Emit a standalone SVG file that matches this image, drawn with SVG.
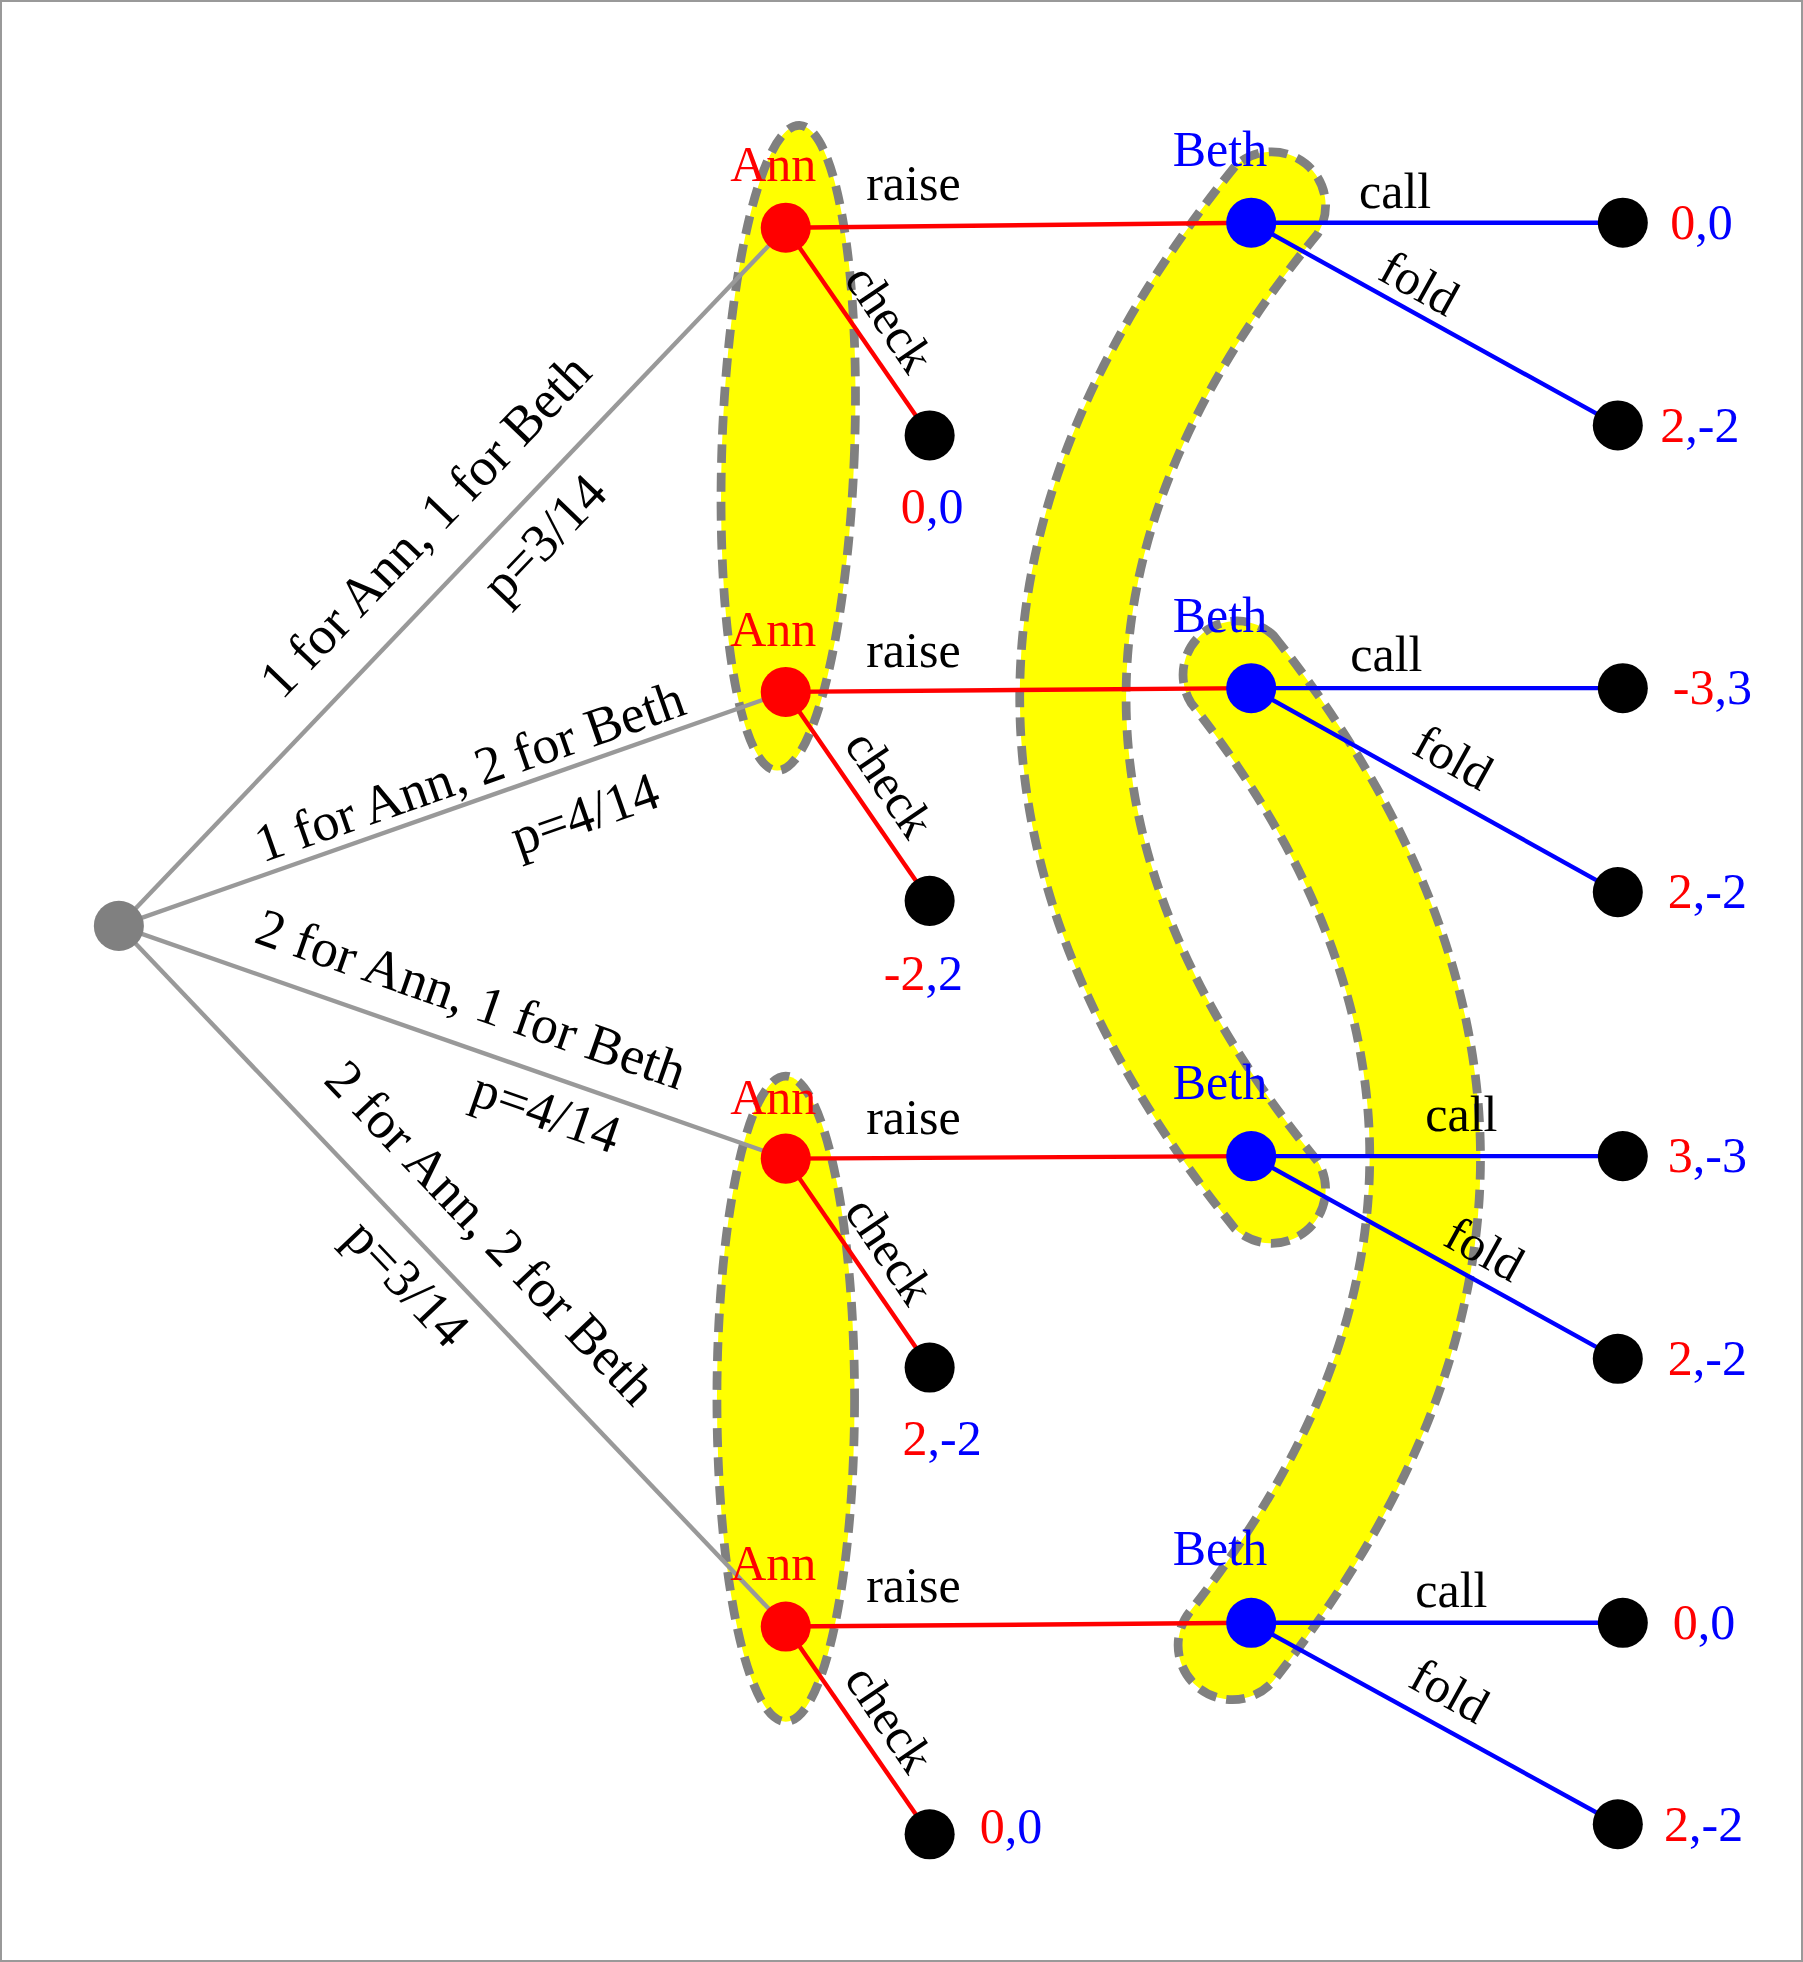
<svg xmlns="http://www.w3.org/2000/svg" width="1803" height="1962" viewBox="0 0 1803 1962">
<style>
text{font-family:"Liberation Serif","Times New Roman",serif;font-size:40px;fill:#000}
.c{font-size:43px}
.r{fill:#ff0000}.b{fill:#0000ff}
.set{fill:#ffff00;stroke:#808080;stroke-width:7;stroke-dasharray:15 8}
.g{stroke:#999;stroke-width:3.5}.re{stroke:#ff0000;stroke-width:3.5}.be{stroke:#0000ff;stroke-width:3.5}
</style>
<rect x="1" y="1" width="1801" height="1960" fill="#fff" stroke="#999" stroke-width="2"/>
<g transform="scale(1.2512)">
<g id="infosets">
<ellipse class="set" cx="630" cy="358" rx="53" ry="258" transform="rotate(2 630 358)"/>
<ellipse class="set" cx="628" cy="1118" rx="55" ry="258"/>
<path class="set" d="M987 133 Q643 557 987 982 A43 43 0 0 0 1053 928 Q747 557 1053 187 A43 43 0 0 0 987 133 Z"/>
<path class="set" d="M1018 508 Q1348 925 1019 1342 A43 43 0 0 1 951 1288 Q1238 925 952 562 A43 43 0 0 1 1018 508 Z"/>
</g>
<g id="connectors" fill="none">
<line class="g" x1="95" y1="740" x2="628" y2="182"/>
<line class="g" x1="95" y1="740" x2="628" y2="553"/>
<line class="g" x1="95" y1="740" x2="628" y2="926"/>
<line class="g" x1="95" y1="740" x2="628" y2="1300"/>
<line class="re" x1="628" y1="182" x2="1000" y2="178"/>
<line class="re" x1="628" y1="553" x2="1000" y2="550"/>
<line class="re" x1="628" y1="926" x2="1000" y2="924"/>
<line class="re" x1="628" y1="1300" x2="1000" y2="1297"/>
<line class="re" x1="628" y1="182" x2="743" y2="348"/>
<line class="re" x1="628" y1="553" x2="743" y2="720"/>
<line class="re" x1="628" y1="926" x2="743" y2="1093"/>
<line class="re" x1="628" y1="1300" x2="743" y2="1466"/>
<line class="be" x1="1000" y1="178" x2="1297" y2="178"/>
<line class="be" x1="1000" y1="178" x2="1293" y2="340"/>
<line class="be" x1="1000" y1="550" x2="1297" y2="550"/>
<line class="be" x1="1000" y1="550" x2="1293" y2="713"/>
<line class="be" x1="1000" y1="924" x2="1297" y2="924"/>
<line class="be" x1="1000" y1="924" x2="1293" y2="1086"/>
<line class="be" x1="1000" y1="1297" x2="1297" y2="1297"/>
<line class="be" x1="1000" y1="1297" x2="1293" y2="1458"/>
</g>
<g id="labels">
<text class="c" transform="translate(350 430) rotate(-46.3)" text-anchor="middle">1 for Ann, 1 for Beth</text>
<text class="c" transform="translate(445 440) rotate(-46.3)" text-anchor="middle">p=3/14</text>
<text class="c" transform="translate(380 630) rotate(-19.3)" text-anchor="middle">1 for Ann, 2 for Beth</text>
<text class="c" transform="translate(472 664) rotate(-19.3)" text-anchor="middle">p=4/14</text>
<text class="c" transform="translate(372 812) rotate(19.2)" text-anchor="middle">2 for Ann, 1 for Beth</text>
<text class="c" transform="translate(432 902) rotate(19.2)" text-anchor="middle">p=4/14</text>
<text class="c" transform="translate(382 995) rotate(46.4)" text-anchor="middle">2 for Ann, 2 for Beth</text>
<text class="c" transform="translate(315 1035) rotate(46.4)" text-anchor="middle">p=3/14</text>
<text x="730" y="160" text-anchor="middle">raise</text>
<text x="730" y="533" text-anchor="middle">raise</text>
<text x="730" y="906" text-anchor="middle">raise</text>
<text x="730" y="1280" text-anchor="middle">raise</text>
<text transform="translate(700 262) rotate(56)" text-anchor="middle">check</text>
<text transform="translate(700 634) rotate(56)" text-anchor="middle">check</text>
<text transform="translate(700 1007) rotate(56)" text-anchor="middle">check</text>
<text transform="translate(700 1381) rotate(56)" text-anchor="middle">check</text>
<text x="1115" y="166" text-anchor="middle">call</text>
<text x="1108" y="536" text-anchor="middle">call</text>
<text x="1168" y="904" text-anchor="middle">call</text>
<text x="1160" y="1284" text-anchor="middle">call</text>
<text transform="translate(1128 238) rotate(29)" text-anchor="middle">fold</text>
<text transform="translate(1155 617) rotate(29)" text-anchor="middle">fold</text>
<text transform="translate(1180 1010) rotate(29)" text-anchor="middle">fold</text>
<text transform="translate(1152 1363) rotate(29)" text-anchor="middle">fold</text>
<text x="618" y="145" text-anchor="middle" class="r" font-size="42">Ann</text>
<text x="618" y="516" text-anchor="middle" class="r" font-size="42">Ann</text>
<text x="618" y="890" text-anchor="middle" class="r" font-size="42">Ann</text>
<text x="618" y="1263" text-anchor="middle" class="r" font-size="42">Ann</text>
<text x="975" y="133" text-anchor="middle" class="b" font-size="42">Beth</text>
<text x="975" y="505" text-anchor="middle" class="b" font-size="42">Beth</text>
<text x="975" y="878" text-anchor="middle" class="b" font-size="42">Beth</text>
<text x="975" y="1251" text-anchor="middle" class="b" font-size="42">Beth</text>
<text x="1335" y="191"><tspan class="r">0</tspan><tspan class="b">,0</tspan></text>
<text x="1327" y="353"><tspan class="r">2</tspan><tspan class="b">,-2</tspan></text>
<text x="1337" y="563"><tspan class="r">-3</tspan><tspan class="b">,3</tspan></text>
<text x="1333" y="726"><tspan class="r">2</tspan><tspan class="b">,-2</tspan></text>
<text x="1333" y="937"><tspan class="r">3</tspan><tspan class="b">,-3</tspan></text>
<text x="1333" y="1099"><tspan class="r">2</tspan><tspan class="b">,-2</tspan></text>
<text x="1337" y="1310"><tspan class="r">0</tspan><tspan class="b">,0</tspan></text>
<text x="1330" y="1471"><tspan class="r">2</tspan><tspan class="b">,-2</tspan></text>
<text x="745" y="418" text-anchor="middle"><tspan class="r">0</tspan><tspan class="b">,0</tspan></text>
<text x="738" y="791" text-anchor="middle"><tspan class="r">-2</tspan><tspan class="b">,2</tspan></text>
<text x="753" y="1163" text-anchor="middle"><tspan class="r">2</tspan><tspan class="b">,-2</tspan></text>
<text x="783" y="1473"><tspan class="r">0</tspan><tspan class="b">,0</tspan></text>
</g>
<g id="root"><circle cx="95" cy="740" r="20" fill="#808080"/></g>
<g id="ann"><circle cx="628" cy="182" r="20" fill="#f00"/><circle cx="628" cy="553" r="20" fill="#f00"/><circle cx="628" cy="926" r="20" fill="#f00"/><circle cx="628" cy="1300" r="20" fill="#f00"/></g>
<g id="beth"><circle cx="1000" cy="178" r="20" fill="#00f"/><circle cx="1000" cy="550" r="20" fill="#00f"/><circle cx="1000" cy="924" r="20" fill="#00f"/><circle cx="1000" cy="1297" r="20" fill="#00f"/></g>
<g id="terminals">
<circle cx="743" cy="348" r="20"/><circle cx="743" cy="720" r="20"/><circle cx="743" cy="1093" r="20"/><circle cx="743" cy="1466" r="20"/>
<circle cx="1297" cy="178" r="20"/><circle cx="1293" cy="340" r="20"/><circle cx="1297" cy="550" r="20"/><circle cx="1293" cy="713" r="20"/>
<circle cx="1297" cy="924" r="20"/><circle cx="1293" cy="1086" r="20"/><circle cx="1297" cy="1297" r="20"/><circle cx="1293" cy="1458" r="20"/>
</g>
</g>
</svg>
